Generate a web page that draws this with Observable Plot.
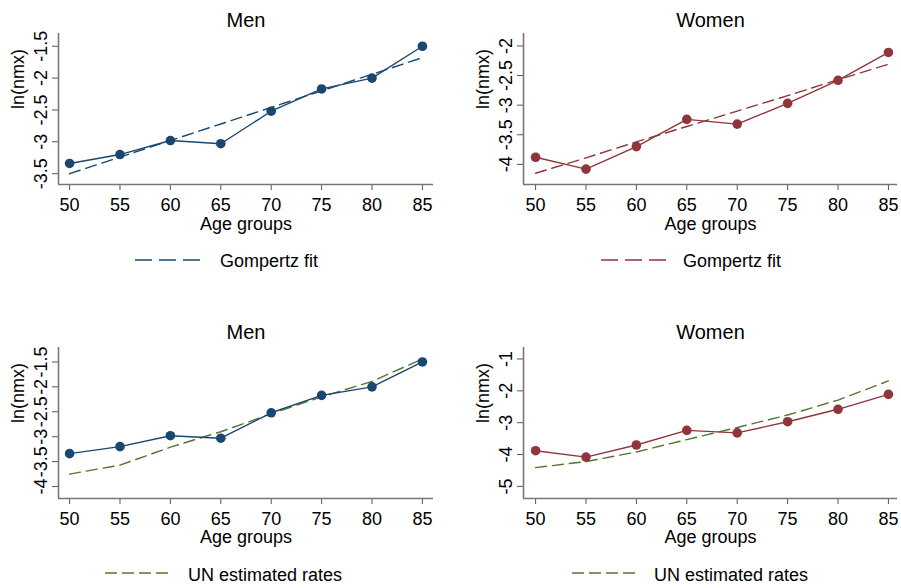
<!DOCTYPE html>
<html>
<head>
<meta charset="utf-8">
<script src="https://cdn.jsdelivr.net/npm/d3@7"></script>
<script src="https://cdn.jsdelivr.net/npm/@observablehq/plot@0.6"></script>
<style>
  html, body { margin: 0; padding: 0; background: #fff; }
  #root { position: relative; width: 901px; height: 588px; overflow: hidden; font-family: "Liberation Sans", Arial, sans-serif; }
  .panel { position: absolute; }
  #legend { position: absolute; left: 0; top: 0; }
</style>
</head>
<body>
<div id="root"></div>
<script>
// ---- data ----
const ages = [50, 55, 60, 65, 70, 75, 80, 85];
const menObserved = [-3.34, -3.20, -2.98, -3.03, -2.52, -2.17, -2.00, -1.50];
const womenObserved = [-3.88, -4.08, -3.70, -3.24, -3.32, -2.97, -2.58, -2.11];
const menGompertz = [-3.50, -3.24, -2.98, -2.72, -2.46, -2.20, -1.94, -1.68];
const womenGompertz = [-4.15, -3.89, -3.62, -3.36, -3.10, -2.84, -2.57, -2.31];
const menUN = [-3.75, -3.57, -3.21, -2.90, -2.54, -2.20, -1.89, -1.44];
const womenUN = [-4.41, -4.22, -3.92, -3.53, -3.15, -2.76, -2.29, -1.69];

const yTicksMenTop = [-3.5, -3, -2.5, -2, -1.5];
const yTicksWomenTop = [-4, -3.5, -3, -2.5, -2];
const yTicksMenBottom = [-4, -3.5, -3, -2.5, -2, -1.5];
const yTicksWomenBottom = [-5, -4, -3, -2, -1];

const titles = ["Men", "Women", "Men", "Women"];
const xLabel = "Age groups";
const yLabel = "ln(nmx)";
const legendLabels = ["Gompertz fit", "Gompertz fit", "UN estimated rates", "UN estimated rates"];

const NAVY = "#1a476f", MAROON = "#90353b", GREEN = "#55752f";

const root = document.getElementById("root");

function panel(opts) {
  const rows = ages.map((a, i) => ({age: a, obs: opts.obs[i], ref: opts.ref[i]}));
  const fmt = d => String(d);
  const p = Plot.plot({
    width: opts.width, height: 240,
    marginLeft: opts.ml, marginRight: opts.mr, marginTop: opts.mt, marginBottom: opts.mb,
    x: {domain: opts.xDomain},
    y: {domain: opts.yDomain},
    style: {fontFamily: '"Liberation Sans", Arial, sans-serif', fontSize: "18px", color: "#000", background: "transparent", overflow: "visible"},
    marks: [
      Plot.axisX({ticks: ages, tickSize: 6, tickPadding: 8, tickFormat: fmt, label: null, fontSize: 18, stroke: "#555", fill: "#000"}),
      Plot.axisY({ticks: opts.yTicks, tickSize: 6, tickPadding: 6, tickRotate: -90, tickFormat: fmt, label: null, fontSize: 18, stroke: "#555", fill: "#000"}),
      Plot.ruleX([opts.xDomain[0]], {stroke: "#777", strokeWidth: 1.6}),
      Plot.ruleY([opts.yDomain[0]], {stroke: "#777", strokeWidth: 1.6}),
      Plot.line(rows, {x: "age", y: "ref", stroke: opts.refColor, strokeWidth: 1.4, strokeDasharray: "11,6"}),
      Plot.line(rows, {x: "age", y: "obs", stroke: opts.color, strokeWidth: 1.4}),
      Plot.dot(rows, {x: "age", y: "obs", fill: opts.color, r: 4.8}),
      Plot.text([opts.title], {frameAnchor: "top", lineAnchor: "middle", dy: opts.titleDy, fontSize: 20}),
      Plot.text([xLabel], {frameAnchor: "bottom", lineAnchor: "middle", dy: opts.xlDy, fontSize: 18}),
      Plot.text([yLabel], {frameAnchor: "left", lineAnchor: "middle", dx: -40, rotate: -90, fontSize: 18})
    ]
  });
  const div = document.createElement("div");
  div.className = "panel";
  div.style.left = opts.left + "px";
  div.style.top = opts.top + "px";
  div.appendChild(p);
  root.appendChild(div);
}

panel({left: 0, top: 0, width: 450, ml: 58, mr: 17, mt: 33, mb: 56,
  xDomain: [48.9, 86.1], yDomain: [-3.67, -1.30], yTicks: yTicksMenTop,
  obs: menObserved, ref: menGompertz, color: NAVY, refColor: NAVY, title: titles[0], titleDy: -13, xlDy: 40});
panel({left: 450, top: 0, width: 451, ml: 73, mr: 4, mt: 33, mb: 56,
  xDomain: [48.8, 85.9], yDomain: [-4.34, -1.79], yTicks: yTicksWomenTop,
  obs: womenObserved, ref: womenGompertz, color: MAROON, refColor: MAROON, title: titles[1], titleDy: -13, xlDy: 40});
panel({left: 0, top: 310, width: 450, ml: 58, mr: 17, mt: 37, mb: 52,
  xDomain: [48.9, 86.1], yDomain: [-4.24, -1.21], yTicks: yTicksMenBottom,
  obs: menObserved, ref: menUN, color: NAVY, refColor: GREEN, title: titles[2], titleDy: -15, xlDy: 39});
panel({left: 450, top: 310, width: 451, ml: 73, mr: 4, mt: 37, mb: 52,
  xDomain: [48.8, 85.9], yDomain: [-5.38, -0.64], yTicks: yTicksWomenBottom,
  obs: womenObserved, ref: womenUN, color: MAROON, refColor: GREEN, title: titles[3], titleDy: -15, xlDy: 39});

// ---- legends (one entry per panel) ----
const legendSpecs = [
  {x1: 135, x2: 203, y: 260, tx: 220, ty: 267, color: NAVY, dash: "17,7"},
  {x1: 601, x2: 668, y: 260, tx: 683, ty: 267, color: MAROON, dash: "17,7"},
  {x1: 105, x2: 173, y: 573, tx: 188, ty: 581, color: GREEN, dash: "12,5"},
  {x1: 572, x2: 638, y: 573, tx: 654, ty: 581, color: GREEN, dash: "12,5"}
];
const svg = d3.select(root).append("svg").attr("id", "legend").attr("width", 901).attr("height", 588);
legendSpecs.forEach((s, i) => {
  svg.append("line").attr("x1", s.x1).attr("x2", s.x2).attr("y1", s.y).attr("y2", s.y)
    .attr("stroke", s.color).attr("stroke-width", 1.4).attr("stroke-dasharray", s.dash);
  svg.append("text").attr("x", s.tx).attr("y", s.ty).attr("font-size", 18)
    .attr("font-family", '"Liberation Sans", Arial, sans-serif').attr("fill", "#000").text(legendLabels[i]);
});
</script>
</body>
</html>
